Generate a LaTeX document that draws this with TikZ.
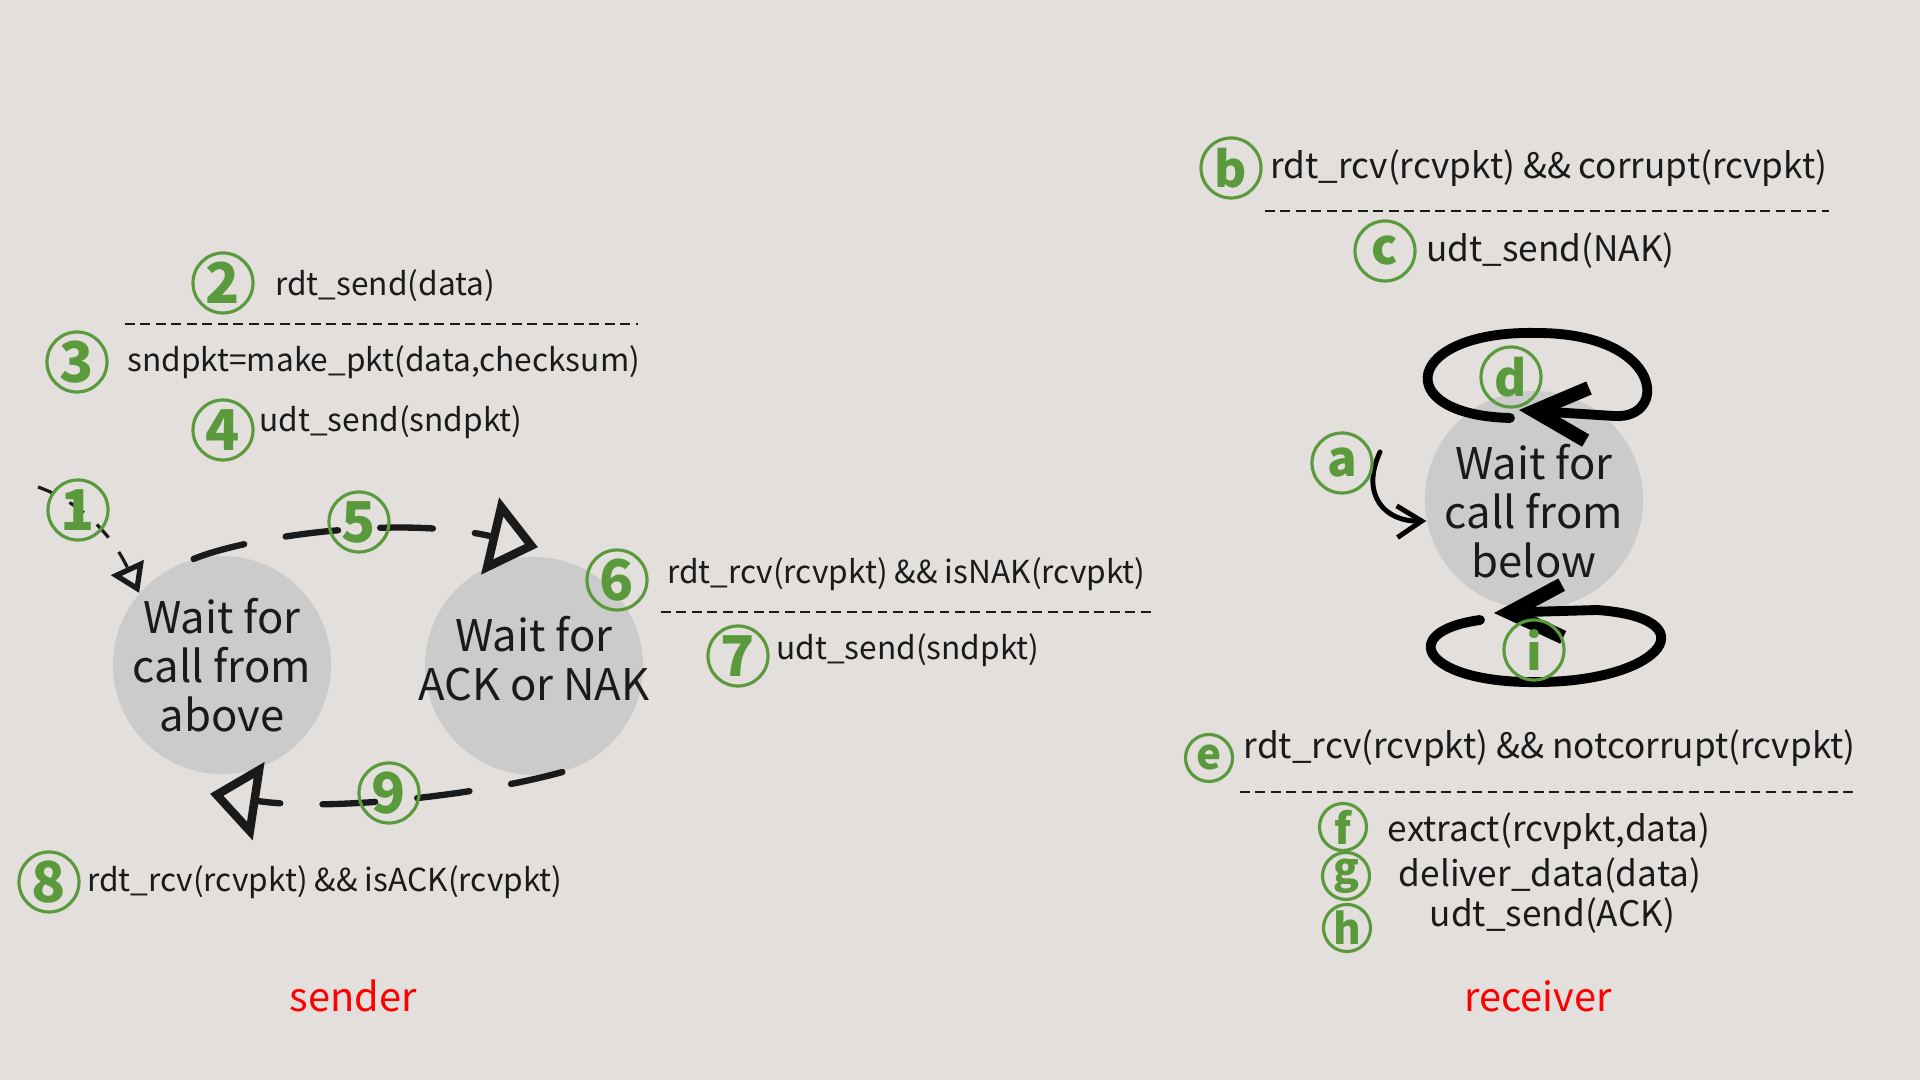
\documentclass[tikz,border=0pt]{standalone}
\usepackage{fontspec}
\setmainfont{Noto Sans CJK SC}
\usetikzlibrary{arrows.meta,positioning}

\definecolor{bgpaper}{HTML}{E2DFDC}
\definecolor{stategray}{HTML}{CBCBCB}
\definecolor{badgegreen}{HTML}{5B9A3C}
\definecolor{inkblack}{HTML}{1A1A1A}

\begin{document}
\begin{tikzpicture}[
    x=0.01cm, y=-0.01cm,
    state/.style={circle, fill=stategray, minimum size=2.18cm, inner sep=0pt},
    statetext/.style={align=center, text=inkblack, inner sep=0pt, font=\fontsize{12.4}{14}\selectfont},
    badge/.style={circle, draw=badgegreen, line width=0.9pt, text=badgegreen, minimum size=0.6cm, inner sep=0pt, font=\fontsize{16}{16}\bfseries\selectfont},
    letterbadge/.style={badge, font=\fontsize{14}{14}\bfseries\selectfont},
    smallbadge/.style={badge, minimum size=0.47cm, font=\fontsize{12}{12}\bfseries\selectfont},
    sndlabel/.style={inner sep=0pt, text=inkblack, font=\fontsize{9}{11}\selectfont},
    rcvlabel/.style={inner sep=0pt, text=inkblack, font=\fontsize{10}{12}\selectfont},
    rolelabel/.style={text=red, font=\fontsize{11.3}{13}\selectfont},
    sepline/.style={draw=inkblack, line width=0.8pt, dash pattern=on 2.8pt off 1.6pt},
    sndarrow/.style={draw=inkblack, line width=1.8pt, line cap=round, dash pattern=on 15pt off 12pt,
        -{Triangle[open, length=14pt, width=22pt, line width=2.4pt]}},
    initarrow/.style={draw=inkblack, line width=0.9pt, dash pattern=on 5pt off 5pt,
        -{Triangle[open, length=8pt, width=10pt, line width=1.5pt]}},
    rcvarrow/.style={draw=black, line width=1.4pt, line cap=round, -{Straight Barb[length=7pt, width=9pt]}},
    loopline/.style={draw=black, line width=2.8pt, line cap=round, -{Straight Barb[length=15pt, width=15pt, line width=4pt]}}
]
\useasboundingbox (0,0) rectangle (1920,1080);
\fill[bgpaper] (0,0) rectangle (1920,1080);

% sender
\node[state, label={[statetext]center:Wait for\\call from\\above}] (waitAbove) at (222,665) {};
\node[state, label={[statetext, yshift=0.7mm]center:Wait for\\ACK or NAK}] (waitAck) at (534,666) {};
\coordinate (sndInit) at (38,487);

\draw[initarrow] (sndInit) .. controls (75,500) and (110,530) .. (waitAbove.139);
\draw[sndarrow] (waitAbove.105) .. controls (250,536) and (400,515) .. ([shift={(4,-9)}]waitAck.north);
\draw[sndarrow] (waitAck.-75) .. controls (480,795) and (330,812) .. ([shift={(-12,19)}]waitAbove.south);

\node[badge] (n1) at (78,510) {1};
\node[badge] (n2) at (223,283) {2};
\node[badge] (n3) at (77,362) {3};
\node[badge] (n4) at (223,430) {4};
\node[badge] (n5) at (359,522) {5};
\node[badge] (n6) at (617,580) {6};
\node[badge] (n7) at (738,656) {7};
\node[badge] (n8) at (49,882) {8};
\node[badge] (n9) at (389,793) {9};

\node[sndlabel, right=2mm of n2, yshift=-0.3mm] (sendData) {rdt\_send(data)};
\node[sndlabel, right=1.8mm of n3] (makePkt) {sndpkt=make\_pkt(data,checksum)};
\node[sndlabel, right=0.4mm of n4, yshift=0.8mm] (udtSend) {udt\_send(sndpkt)};
\node[sndlabel, right=1.8mm of n6, yshift=0.6mm] (gotNak) {rdt\_rcv(rcvpkt) \&\& isNAK(rcvpkt)};
\node[sndlabel, right=0.6mm of n7, yshift=0.6mm] (resend) {udt\_send(sndpkt)};
\node[sndlabel, right=0.6mm of n8] (gotAck) {rdt\_rcv(rcvpkt) \&\& isACK(rcvpkt)};
\draw[sepline] (125,324) -- (638,324);
\draw[sepline] (661,612) -- (1151,612);

\node[rolelabel] (sndTitle) at (353,996) {sender};

% receiver
\node[state, label={[statetext, yshift=-1.1mm]center:Wait for\\call from\\below}] (waitBelow) at (1534,500) {};
\coordinate (rcvInit) at (1380,452);

\draw[rcvarrow] (rcvInit) .. controls (1360,495) and (1385,522) .. (waitBelow.191);
\begin{scope}[shift={(waitBelow.center)}]
  \draw[loopline] (-24,-82) .. controls (-145,-85) and (-130,-170) .. (3,-167)
    .. controls (130,-167) and (135,-80) .. (80,-84) -- (-15,-90);
  \draw[loopline] (-54,120) .. controls (-140,132) and (-110,185) .. (9,182)
    .. controls (130,180) and (175,118) .. (63,110) -- (-40,113);
\end{scope}

\node[letterbadge] (ra) at (1342,463) {a};
\node[letterbadge] (rb) at (1231,168) {b};
\node[letterbadge] (rc) at (1385,251) {c};
\node[letterbadge] (rd) at (1511,377) {d};
\node[smallbadge] (re) at (1209,758) {e};
\node[smallbadge] (rf) at (1343,827) {f};
\node[smallbadge] (rg) at (1346,876) {g};
\node[smallbadge] (rh) at (1347,928) {h};
\node[letterbadge] (ri) at (1534,650) {i};

\node[rcvlabel, right=0.7mm of rb] (gotCorrupt) {rdt\_rcv(rcvpkt) \&\& corrupt(rcvpkt)};
\node[rcvlabel, right=0.9mm of rc] (sendNak) {udt\_send(NAK)};
\node[rcvlabel, right=0.9mm of re, yshift=1mm] (gotGood) {rdt\_rcv(rcvpkt) \&\& notcorrupt(rcvpkt)};
\node[rcvlabel, right=1.9mm of rf, yshift=-0.4mm] (extract) {extract(rcvpkt,data)};
\node[rcvlabel, right=2.7mm of rg] (deliver) {deliver\_data(data)};
\node[rcvlabel, right=5.7mm of rh, yshift=1.2mm] (sendAck) {udt\_send(ACK)};
\draw[sepline] (1265,211) -- (1829,211);
\draw[sepline] (1240,792) -- (1853,792);

\node[rolelabel] (rcvTitle) at (1538,996) {receiver};
\end{tikzpicture}
\end{document}
